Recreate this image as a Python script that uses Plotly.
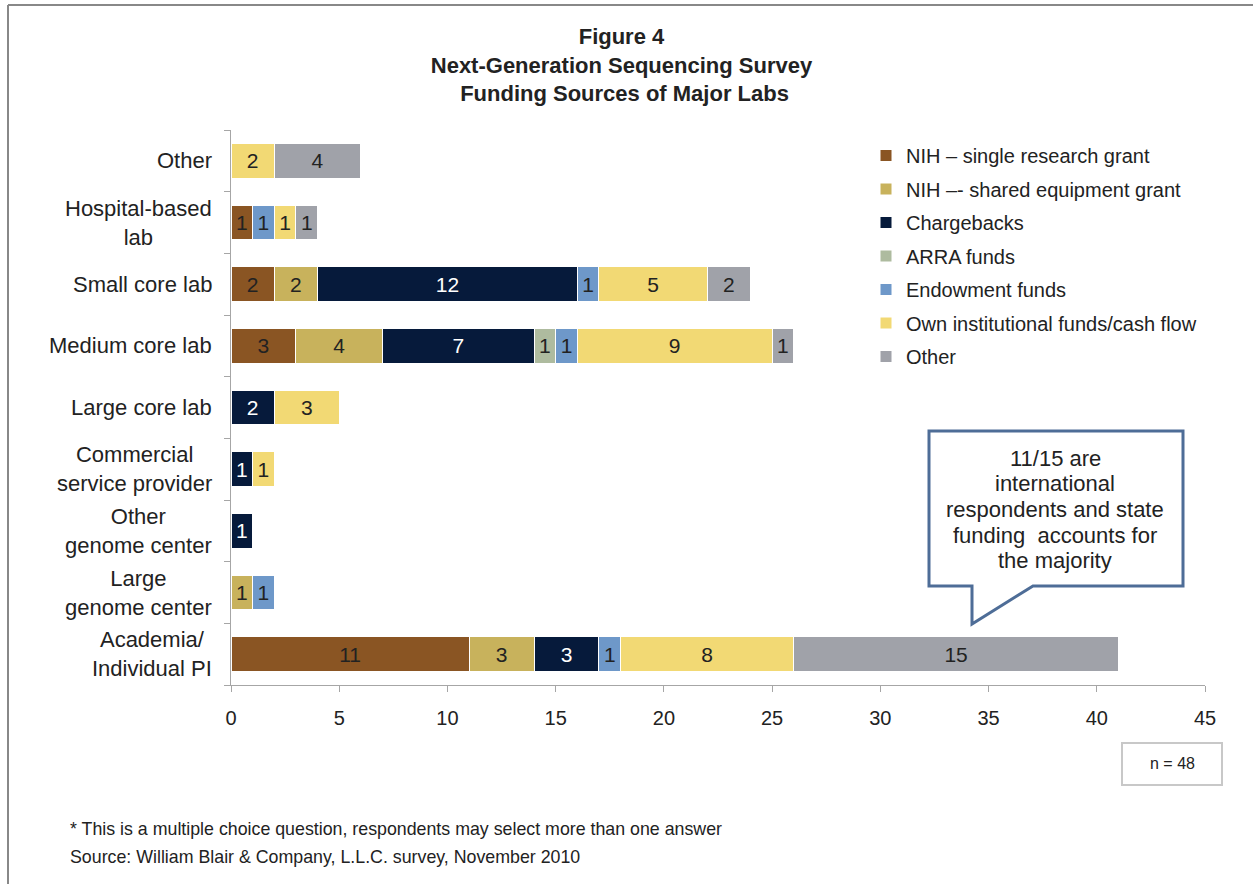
import plotly.graph_objects as go

categories = ["Academia/<br>Individual PI", "Large<br>genome center", "Other<br>genome center",
              "Commercial<br>service provider", "Large core lab", "Medium core lab",
              "Small core lab", "Hospital-based<br>lab", "Other"]

series_names = ["NIH \u2013 single research grant", "NIH \u2013- shared equipment grant",
                "Chargebacks", "ARRA funds", "Endowment funds",
                "Own institutional funds/cash flow", "Other"]

nih_single = [11, None, None, None, None, 3, 2, 1, None]
nih_shared = [3, 1, None, None, None, 4, 2, None, None]
chargebacks = [3, None, 1, 1, 2, 7, 12, None, None]
arra = [None, None, None, None, None, 1, None, None, None]
endowment = [1, 1, None, None, None, 1, 1, 1, None]
own_funds = [8, None, None, 1, 3, 9, 5, 1, 2]
other = [15, None, None, None, None, 1, 2, 1, 4]

series_values = [nih_single, nih_shared, chargebacks, arra, endowment, own_funds, other]
colors = ["#8A5523", "#C8B25C", "#061A3B", "#AEBB9F", "#6E98C9", "#F2D974", "#A0A2A9"]
text_colors = ["#222222", "#222222", "#FFFFFF", "#222222", "#222222", "#222222", "#222222"]

x_ticks = [0, 5, 10, 15, 20, 25, 30, 35, 40, 45]

callout_lines = ["11/15 are", "international", "respondents and state",
                 "funding  accounts for", "the majority"]

FONT = "Liberation Sans, Arial, sans-serif"
W, H = 1253, 884
ML, MR, MT, MB = 231, 48, 130, 199
PW, PH = W - ML - MR, H - MT - MB


def px(x):
    return (x - ML) / PW


def py(y):
    return (H - MB - y) / PH


fig = go.Figure()
for i, (name, vals) in enumerate(zip(series_names, series_values)):
    fig.add_trace(go.Bar(
        y=categories, x=vals, name=name, orientation="h",
        marker=dict(color=colors[i], line=dict(color="white", width=1)),
        text=[("" if v is None else str(v)) for v in vals],
        textposition="inside", insidetextanchor="middle", textangle=0,
        textfont=dict(family=FONT, size=21, color=text_colors[i]),
        legendgroup="g%d" % i,
        hoverinfo="x+name",
    ))

annotations = []
for c in categories:
    annotations.append(dict(
        xref="paper", yref="y", x=0, y=c, xshift=-17,
        xanchor="right", yanchor="middle", align="center",
        text=c, showarrow=False,
        font=dict(family=FONT, size=22, color="#222222"),
    ))

# callout text
for i, line in enumerate(callout_lines):
    annotations.append(dict(
        xref="paper", yref="paper", x=px(1055), y=py(458 + i * 25.7),
        xanchor="center", yanchor="middle", text=line, showarrow=False,
        font=dict(family=FONT, size=22, color="#222222"),
    ))
# n = 48
annotations.append(dict(
    xref="paper", yref="paper", x=px(1172), y=py(764), xanchor="center", yanchor="middle",
    text="n = 48", showarrow=False, font=dict(family=FONT, size=16, color="#222222"),
))
# footnotes
annotations.append(dict(
    xref="paper", yref="paper", x=px(68), y=py(829), xanchor="left", yanchor="middle",
    text="* This is a multiple choice question, respondents may select more than one answer",
    showarrow=False, font=dict(family=FONT, size=17.8, color="#222222"),
))
annotations.append(dict(
    xref="paper", yref="paper", x=px(68), y=py(857), xanchor="left", yanchor="middle",
    text="Source: William Blair &amp; Company, L.L.C. survey, November 2010",
    showarrow=False, font=dict(family=FONT, size=17.8, color="#222222"),
))

L, R, T, B = px(929), px(1183), py(431), py(586)
callout_path = ("M {l},{t} L {r},{t} L {r},{b} L {tx2},{b} L {tx},{ty} L {tx},{b} L {l},{b} Z"
                .format(l=L, r=R, t=T, b=B, tx=px(972), tx2=px(1033), ty=py(624)))

shapes = [
    dict(type="path", xref="paper", yref="paper", path=callout_path,
         line=dict(color="#4E6D97", width=3), fillcolor="white", layer="above"),
    dict(type="rect", xref="paper", yref="paper", x0=px(1122), x1=px(1222), y0=py(743), y1=py(785),
         line=dict(color="#C8C8C8", width=2), fillcolor="rgba(0,0,0,0)"),
    dict(type="line", xref="paper", yref="paper", x0=px(8), x1=px(1253), y0=py(5), y1=py(5),
         line=dict(color="#888888", width=2)),
    dict(type="line", xref="paper", yref="paper", x0=px(8), x1=px(8), y0=py(5), y1=py(884),
         line=dict(color="#888888", width=2)),
]

fig.update_layout(
    width=W, height=H,
    margin=dict(l=ML, r=MR, t=MT, b=MB),
    paper_bgcolor="white", plot_bgcolor="white",
    barmode="stack", bargap=0.44,
    font=dict(family=FONT, color="#222222"),
    title=dict(
        text="<b>Figure 4<br>Next-Generation Sequencing Survey<br> Funding Sources of Major Labs</b>",
        x=0.496, xref="container", xanchor="center",
        y=1 - 44 / H, yref="container", yanchor="top",
        font=dict(family=FONT, size=22, color="#222222"),
    ),
    xaxis=dict(
        range=[0, 45], tickvals=x_ticks, showgrid=False, zeroline=False,
        showline=True, linecolor="#A6A6A6", linewidth=1,
        ticks="outside", ticklen=6, tickcolor="#A6A6A6", ticklabelstandoff=9,
        tickfont=dict(family=FONT, size=20, color="#222222"),
    ),
    yaxis=dict(
        type="category", categoryorder="array", categoryarray=categories,
        showticklabels=False, showgrid=False, zeroline=False,
        showline=True, linecolor="#A6A6A6", linewidth=1,
        ticks="outside", ticklen=6, tickcolor="#A6A6A6", tickson="boundaries",
        range=[-0.5, 8.5],
    ),
    legend=dict(
        x=px(866), y=py(136), xanchor="left", yanchor="top",
        traceorder="grouped", tracegroupgap=4.5,
        font=dict(family=FONT, size=20, color="#222222"),
        bgcolor="rgba(0,0,0,0)", itemwidth=30,
    ),
    annotations=annotations,
    shapes=shapes,
    uniformtext=dict(minsize=18, mode="show"),
)

fig.write_html("out.html", config={"displayModeBar": False},
               post_script="document.body.style.margin='0';")
